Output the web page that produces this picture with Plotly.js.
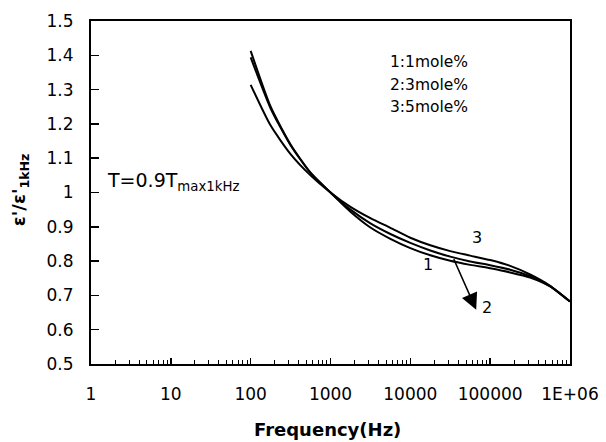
<!DOCTYPE html>
<html>
<head>
<meta charset="utf-8">
<script src="https://cdn.plot.ly/plotly-3.0.1.min.js"></script>
<style>html,body{margin:0;padding:0;background:#fff;}#chart{width:606px;height:442px;}</style>
</head>
<body>
<div id="chart"></div>
<script>
// Frequency (Hz)
const freq = [100, 178, 316, 562, 1000, 1778, 3162, 5623, 10000, 17783, 31623, 56234, 100000, 177828, 316228, 562341, 1000000];
// ε'/ε'1kHz for each composition
const curve1 = [1.413, 1.25, 1.14, 1.058, 1.0, 0.944, 0.898, 0.865, 0.838, 0.817, 0.801, 0.789, 0.779, 0.767, 0.752, 0.726, 0.682];
const curve2 = [1.394, 1.245, 1.138, 1.057, 1.0, 0.95, 0.91, 0.879, 0.853, 0.831, 0.813, 0.799, 0.788, 0.775, 0.756, 0.727, 0.682];
const curve3 = [1.314, 1.195, 1.112, 1.05, 1.0, 0.958, 0.925, 0.897, 0.868, 0.846, 0.829, 0.816, 0.803, 0.786, 0.761, 0.728, 0.682];
const seriesNames = ['1:1mole%', '2:3mole%', '3:5mole%'];
const xTickVals = [1, 10, 100, 1000, 10000, 100000, 1000000];
const xTickText = ['1', '10', '100', '1000', '10000', '100000', '1E+06'];

const minorVals = [];
for (let d = 0; d < 6; d++) for (let m = 2; m <= 9; m++) minorVals.push(m * Math.pow(10, d));

const lineStyle = {color: '#000', width: 2, shape: 'spline', smoothing: 0.6};
const traces = [curve1, curve2, curve3].map((c, i) => ({
  x: freq, y: c, type: 'scatter', mode: 'lines', name: seriesNames[i], line: lineStyle, hoverinfo: 'skip'
}));

const font = {family: 'DejaVu Sans, Arial, sans-serif', color: '#000'};
const annotations = [
  {xref: 'paper', yref: 'paper', x: -0.148, y: 0.507, text: "<b>ε'/ε'<sub>1kHz</sub></b>", textangle: -90, showarrow: false, font: Object.assign({size: 18}, font), xanchor: 'center', yanchor: 'middle'},
  {xref: 'paper', yref: 'paper', x: 0.494, y: -0.192, text: '<b>Frequency(Hz)</b>', showarrow: false, font: Object.assign({size: 18}, font), xanchor: 'center', yanchor: 'middle'},
  {xref: 'x', yref: 'y', x: 0.175, y: 1.033, text: 'T=0.9T<sub>max1kHz</sub>', showarrow: false, font: Object.assign({size: 19}, font), xanchor: 'left', yanchor: 'middle'},
  {xref: 'x', yref: 'y', x: 4.837, y: 0.868, text: '3', showarrow: false, font: Object.assign({size: 16}, font)},
  {xref: 'x', yref: 'y', x: 4.22, y: 0.789, text: '1', showarrow: false, font: Object.assign({size: 16}, font)},
  {xref: 'x', yref: 'y', x: 4.96, y: 0.664, text: '2', showarrow: false, font: Object.assign({size: 16}, font)},
  {xref: 'x', yref: 'y', axref: 'x', ayref: 'y', x: 4.825, y: 0.658, ax: 4.536, ay: 0.81, text: '', showarrow: true, arrowhead: 2, arrowsize: 2.2, arrowwidth: 1.5, arrowcolor: '#000'}
];
seriesNames.forEach((t, i) => annotations.push({
  xref: 'x', yref: 'y', x: 3.722, y: [1.380, 1.313, 1.249][i], text: t, showarrow: false,
  font: Object.assign({size: 15.5}, font), xanchor: 'left', yanchor: 'middle'
}));

const layout = {
  width: 606, height: 442,
  margin: {l: 91, r: 36, t: 21, b: 78},
  paper_bgcolor: '#fff', plot_bgcolor: '#fff',
  showlegend: false,
  font: font,
  xaxis: {
    type: 'log', range: [0, 6], tickmode: 'array', tickvals: xTickVals, ticktext: xTickText,
    ticks: 'inside', ticklen: 6, tickwidth: 1.5, tickcolor: '#000',
    minor: {tickmode: 'array', tickvals: minorVals, ticks: 'inside', ticklen: 4, tickwidth: 1, tickcolor: '#000', showgrid: false},
    showline: true, linecolor: '#000', linewidth: 2, mirror: true, showgrid: false, zeroline: false,
    tickfont: Object.assign({size: 17}, font), ticklabelstandoff: 14
  },
  yaxis: {
    range: [0.5, 1.5], dtick: 0.1, tick0: 0.5,
    ticks: 'inside', ticklen: 8, tickwidth: 1.5, tickcolor: '#000',
    showline: true, linecolor: '#000', linewidth: 2, mirror: true, showgrid: false, zeroline: false,
    tickfont: Object.assign({size: 17}, font), ticklabelstandoff: 12
  },
  annotations: annotations
};

Plotly.newPlot('chart', traces, layout, {staticPlot: true, displayModeBar: false});
</script>
</body>
</html>
